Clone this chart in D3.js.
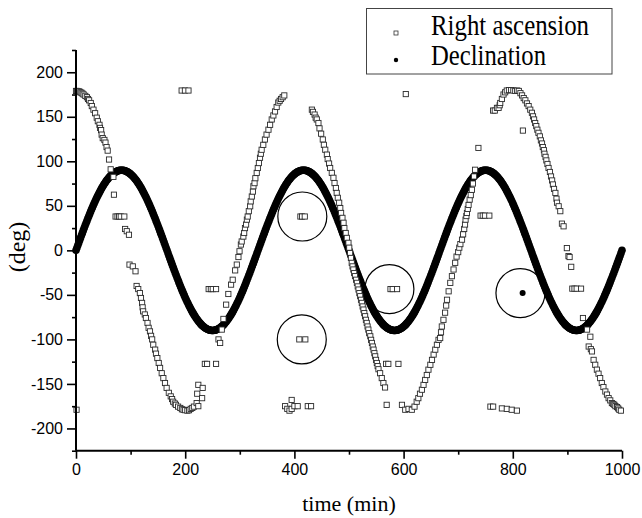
<!DOCTYPE html>
<html>
<head>
<meta charset="utf-8">
<script src="https://cdn.jsdelivr.net/npm/d3@7"></script>
<style>
  html, body { margin: 0; padding: 0; background: #fff; }
  svg { display: block; }
  .tick text { font-family: "Liberation Sans", Arial, sans-serif; font-size: 16px; fill: #000; }
  .title { font-family: "Liberation Serif", "Times New Roman", serif; fill: #000; }
</style>
</head>
<body>
<svg id="chart" width="642" height="518"></svg>
<script>
// Declination, one fix every 100 s (5/3 min) from t = 0 to t = 1000 min
const decStepMin = 5 / 3;
const declination = [
  0,2.8,5.7,8.5,11.3,14.1,16.9,19.6,22.4,25.1,
  27.8,30.5,33.1,35.7,38.3,40.9,43.4,45.8,48.2,50.6,
  52.9,55.2,57.4,59.5,61.6,63.6,65.6,67.5,69.4,71.1,
  72.8,74.4,76.0,77.5,78.9,80.2,81.4,82.6,83.7,84.7,
  85.6,86.4,87.2,87.8,88.4,88.9,89.3,89.6,89.8,90.0,
  90,90.0,89.8,89.6,89.3,88.9,88.4,87.8,87.2,86.4,
  85.6,84.7,83.7,82.6,81.4,80.2,78.9,77.5,76.0,74.4,
  72.8,71.1,69.4,67.5,65.6,63.6,61.6,59.5,57.4,55.2,
  52.9,50.6,48.2,45.8,43.4,40.9,38.3,35.7,33.1,30.5,
  27.8,25.1,22.4,19.6,16.9,14.1,11.3,8.5,5.7,2.8,
  0,-2.8,-5.7,-8.5,-11.3,-14.1,-16.9,-19.6,-22.4,-25.1,
  -27.8,-30.5,-33.1,-35.7,-38.3,-40.9,-43.4,-45.8,-48.2,-50.6,
  -52.9,-55.2,-57.4,-59.5,-61.6,-63.6,-65.6,-67.5,-69.4,-71.1,
  -72.8,-74.4,-76.0,-77.5,-78.9,-80.2,-81.4,-82.6,-83.7,-84.7,
  -85.6,-86.4,-87.2,-87.8,-88.4,-88.9,-89.3,-89.6,-89.8,-90.0,
  -90,-90.0,-89.8,-89.6,-89.3,-88.9,-88.4,-87.8,-87.2,-86.4,
  -85.6,-84.7,-83.7,-82.6,-81.4,-80.2,-78.9,-77.5,-76.0,-74.4,
  -72.8,-71.1,-69.4,-67.5,-65.6,-63.6,-61.6,-59.5,-57.4,-55.2,
  -52.9,-50.6,-48.2,-45.8,-43.4,-40.9,-38.3,-35.7,-33.1,-30.5,
  -27.8,-25.1,-22.4,-19.6,-16.9,-14.1,-11.3,-8.5,-5.7,-2.8,
  0,2.8,5.7,8.5,11.3,14.1,16.9,19.6,22.4,25.1,
  27.8,30.5,33.1,35.7,38.3,40.9,43.4,45.8,48.2,50.6,
  52.9,55.2,57.4,59.5,61.6,63.6,65.6,67.5,69.4,71.1,
  72.8,74.4,76.0,77.5,78.9,80.2,81.4,82.6,83.7,84.7,
  85.6,86.4,87.2,87.8,88.4,88.9,89.3,89.6,89.8,90.0,
  90,90.0,89.8,89.6,89.3,88.9,88.4,87.8,87.2,86.4,
  85.6,84.7,83.7,82.6,81.4,80.2,78.9,77.5,76.0,74.4,
  72.8,71.1,69.4,67.5,65.6,63.6,61.6,59.5,57.4,55.2,
  52.9,50.6,48.2,45.8,43.4,40.9,38.3,35.7,33.1,30.5,
  27.8,25.1,22.4,19.6,16.9,14.1,11.3,8.5,5.7,2.8,
  0,-2.8,-5.7,-8.5,-11.3,-14.1,-16.9,-19.6,-22.4,-25.1,
  -27.8,-30.5,-33.1,-35.7,-38.3,-40.9,-43.4,-45.8,-48.2,-50.6,
  -52.9,-55.2,-57.4,-59.5,-61.6,-63.6,-65.6,-67.5,-69.4,-71.1,
  -72.8,-74.4,-76.0,-77.5,-78.9,-80.2,-81.4,-82.6,-83.7,-84.7,
  -85.6,-86.4,-87.2,-87.8,-88.4,-88.9,-89.3,-89.6,-89.8,-90.0,
  -90,-90.0,-89.8,-89.6,-89.3,-88.9,-88.4,-87.8,-87.2,-86.4,
  -85.6,-84.7,-83.7,-82.6,-81.4,-80.2,-78.9,-77.5,-76.0,-74.4,
  -72.8,-71.1,-69.4,-67.5,-65.6,-63.6,-61.6,-59.5,-57.4,-55.2,
  -52.9,-50.6,-48.2,-45.8,-43.4,-40.9,-38.3,-35.7,-33.1,-30.5,
  -27.8,-25.1,-22.4,-19.6,-16.9,-14.1,-11.3,-8.5,-5.7,-2.8,
  0,2.8,5.7,8.5,11.3,14.1,16.9,19.6,22.4,25.1,
  27.8,30.5,33.1,35.7,38.3,40.9,43.4,45.8,48.2,50.6,
  52.9,55.2,57.4,59.5,61.6,63.6,65.6,67.5,69.4,71.1,
  72.8,74.4,76.0,77.5,78.9,80.2,81.4,82.6,83.7,84.7,
  85.6,86.4,87.2,87.8,88.4,88.9,89.3,89.6,89.8,90.0,
  90,90.0,89.8,89.6,89.3,88.9,88.4,87.8,87.2,86.4,
  85.6,84.7,83.7,82.6,81.4,80.2,78.9,77.5,76.0,74.4,
  72.8,71.1,69.4,67.5,65.6,63.6,61.6,59.5,57.4,55.2,
  52.9,50.6,48.2,45.8,43.4,40.9,38.3,35.7,33.1,30.5,
  27.8,25.1,22.4,19.6,16.9,14.1,11.3,8.5,5.7,2.8,
  0,-2.8,-5.7,-8.5,-11.3,-14.1,-16.9,-19.6,-22.4,-25.1,
  -27.8,-30.5,-33.1,-35.7,-38.3,-40.9,-43.4,-45.8,-48.2,-50.6,
  -52.9,-55.2,-57.4,-59.5,-61.6,-63.6,-65.6,-67.5,-69.4,-71.1,
  -72.8,-74.4,-76.0,-77.5,-78.9,-80.2,-81.4,-82.6,-83.7,-84.7,
  -85.6,-86.4,-87.2,-87.8,-88.4,-88.9,-89.3,-89.6,-89.8,-90.0,
  -90,-90.0,-89.8,-89.6,-89.3,-88.9,-88.4,-87.8,-87.2,-86.4,
  -85.6,-84.7,-83.7,-82.6,-81.4,-80.2,-78.9,-77.5,-76.0,-74.4,
  -72.8,-71.1,-69.4,-67.5,-65.6,-63.6,-61.6,-59.5,-57.4,-55.2,
  -52.9,-50.6,-48.2,-45.8,-43.4,-40.9,-38.3,-35.7,-33.1,-30.5,
  -27.8,-25.1,-22.4,-19.6,-16.9,-14.1,-11.3,-8.5,-5.7,-2.8,
  0
];

// Declination fixes that fall off the track: [time (min), deg]
const decOutliers = [[818, -48]];

// Right ascension fixes: [time (min), deg]
const rightAscension = [
  [0,179],[2,179],[4,178.5],[6,178.5],[8,177.5],[10,177],[12,176],[14,175],[17,173.5],[20,172],
  [22,170],[24,168.5],[27,165.5],[29,162],[32,158],[35,154],[38,149],[40,145],[43,141],[44,137.5],
  [46,135],[47,130],[49,126],[52,124],[54,121],[56,116],[58,112],[60.5,102],[63.5,91],[68.5,82.5],
  [69.5,62.5],[72.5,38],[76,38],[79,38],[82,38],[88.5,38],[90,24],[93,21.5],[97,17.5],
  [98,-16],[104,-18],[109,-23.5],
  [111,-40],[114,-43.5],[117,-48],[119,-53.5],[121,-59],[122,-64],[123,-68.5],[126,-72],[128,-76],[131,-81.5],
  [133,-87],[135.5,-91],[137.5,-96],[139.5,-100],[141.5,-106],[145,-111.5],[146.5,-116],[149,-121],
  [151.5,-126.5],[154,-132],[157,-138],[160,-143.5],[163,-149],[166,-154.5],[170,-160],[173.5,-164],
  [176,-167],[178,-170],[181,-172],[183,-173.5],[187,-175.5],[191,-177],[194,-178.5],[197,-179],
  [200,-179.5],[204,-180],[207,-179.5],[210,-178],[213,-177],[216,-175.5],[221,-171.5],[224,-175],
  [222,-161],[231,-166],[224,-151],[232,-154.5],
  [193.5,179.5],[199.5,179.5],[206,179.5],
  [236,-127.5],[240,-127.5],[256.5,-127.5],
  [243,-43.5],[247,-43.5],[250.5,-43.5],[256.5,-43.5],
  [261,-100],[264,-104],[267,-89],[270,-77],[275,-61],[279,-49],[284,-38.5],[287,-33],[291.5,-22.5],
  [294.5,-16],[297.5,-7.5],[299.5,-1],[302,6.5],[303.5,10],[306.5,15.5],[308,19.5],[309.5,25],
  [311.5,29],[313,34.5],[314.5,38],[316.5,44],[319,49.5],[320,55],[322,60.5],[324,66],[325,72],
  [327,75.5],[328.5,81],[331,87],[333,92.5],[335,98],[337,104],[338.5,108.5],[340,113],[343,118.5],[346,124.5],
  [349,130],[352.5,135.5],[355.5,141],[358.5,147],[361.5,151.5],[364.5,156],[367.5,161],[370.5,166],
  [373,168],[375.5,170],[378.5,172],[381.5,174],
  [383,-175],[387,-178],[391,-180],[395,-178],[395,-168],[400,-175],[406,-175],[424.5,-175],[430.5,-175],
  [411,38],[414,38],[419,38],
  [409,-100],[420,-100],
  [432,158],[434,155.5],[437,152.5],[439,149],[441,147],[444,143],[446,137],[449,131],[452,124.5],
  [454,118.5],[456.5,113],[459.5,107.5],[461,102.5],[463.5,97.5],[465.5,92.5],[468.5,87],[471.5,81.5],
  [473.5,75.5],[476,70],[477.5,64.5],[479.5,59],[482,53.5],[484,47.5],[485.5,42],[488,36.5],[490,31],
  [491.5,25],[494,19.5],[496,14],[499,8.5],[500.5,3],[502,-3],[503.5,-8.5],[505,-14],[506.5,-18],[508,-21.5],
  [509.5,-25.5],[511,-29],[513,-33],[514.5,-36.5],[516,-40.5],[517.5,-44],[519,-48],[520.5,-51.5],
  [522,-55.5],[523.5,-59],[525,-63],[526.5,-66.5],[528,-70.5],[529.5,-74],[531,-78],[532.5,-81.5],
  [534,-85.5],[535.5,-89],[537,-93],[539,-96.5],[540.5,-100.5],[542,-104],[543.5,-108],[545,-111.5],
  [546.5,-115.5],[548,-119],[549.5,-123],[551,-126.5],[552.5,-130],[554,-133.5],[557,-138],[560,-143.5],
  [563,-149],[566,-154],
  [569,-173.5],[568,-127.5],[572,-127.5],[590.5,-127.5],[576,-43.5],[580,-43.5],[588,-43.5],[604,175.5],
  [597,-173.5],[603,-179],[609,-178],[615,-179],[620,-175.5],[624,-170],[627,-166],[630,-161],
  [633.5,-156.5],[636.5,-151],[639.5,-145.5],[642.5,-140],[645.5,-134],[649,-128.5],[652,-123],
  [655,-117],[658,-111.5],[661,-106],[664,-100.5],[667,-98.5],[668.5,-92],[670,-85.5],[673,-78],
  [676,-70],[678,-62],[679.5,-55.5],[682.5,-46],[685.5,-36.5],[688.5,-29],[691.5,-21.5],[694.5,-14],
  [697,-7],[700,-2],[702,3],[704,7],[707,12],[709,18],[711,24],[712.5,29],[713.5,34.5],[715,38.5],[716,42],
  [717.5,46.5],[719,51],[721,57],[723,62],[725,68],[727,75],[729,83],[731,90.5],
  [737,115],[741,39],[745,39],[749,39],[757,39],
  [764,157],[767,157],[771,160],[774,160],[776,163],[777,165.5],[780,170],[783,175],[786,177.5],
  [789,179.5],[793,180],[797,180],[801,179.5],[804.5,179],[808,179.5],[811,179],[814,176.5],[817,174],
  [820,171],[823,168.5],[826,165],[829,162],[832,158],[835,154.5],[837,150.5],[839,147],[841,143],
  [843,139.5],[845,135.5],[847,132],[849.5,128],[851.5,123.5],[853.5,120],[855,116],[857,112.5],
  [858,108.5],[860,105],[861.5,101],[863.5,97],[865.5,92.5],[868,88],[870,83],[872,78.5],[873.5,74],
  [875.5,69],[878,64.5],[880,58],[881,53.5],[884,49.5],[887,44],[890,30],[893,27],
  [899,2.5],[902,-6.5],[904,-7.5],[907,-18.5],
  [909,-43],[913,-43],[917,-43],[925,-43],
  [928.5,-76],[936,-89],[942,-97],[939,-108],[943,-111],[945,-113.5],[948,-123],[951,-128.5],
  [954,-134],[957,-138.5],[960,-143.5],[963,-149],[966,-153.5],[969.5,-158.5],[972.5,-162],
  [975.5,-166],[978.5,-168.5],[981.5,-171.5],[984,-172.5],[986,-173.5],[988,-175],[991,-176],
  [993,-177.5],[995,-179],[998,-180],
  [759,-175.5],[764,-175.5],[780,-177.5],[789,-178],[798,-179],[807.5,-180],
  [818.5,134.5],[1,-179]
];

// Fixes ringed on the plot: [time (min), deg]
const ringedFixes = [[414.5, 38], [413.5, -100], [574, -43.5], [814, -48]];

// Axis ticks
const xMajorTicks = [0, 200, 400, 600, 800, 1000];
const xMinorTicks = [100, 300, 500, 700, 900];
const yMajorTicks = [-200, -150, -100, -50, 0, 50, 100, 150, 200];
const yMinorTicks = [-225, -175, -125, -75, -25, 25, 75, 125, 175, 225];

const seriesNames = ["Right ascension", "Declination"];

const svg = d3.select("#chart");
const x = d3.scaleLinear().domain([0, 1000]).range([76, 622]);
const y = d3.scaleLinear().domain([-225, 225]).range([450.7, 50]);

// Declination track
svg.append("g")
  .selectAll("circle")
  .data(declination)
  .join("circle")
  .attr("cx", (d, i) => x(i * decStepMin))
  .attr("cy", d => y(d))
  .attr("r", 3.8)
  .attr("fill", "#000");

svg.append("g")
  .selectAll("circle")
  .data(decOutliers)
  .join("circle")
  .attr("cx", d => x(d[0]))
  .attr("cy", d => y(d[1]))
  .attr("r", 3)
  .attr("fill", "#000");

// Right ascension: open squares
const sq = 5.2;
svg.append("g")
  .selectAll("rect")
  .data(rightAscension)
  .join("rect")
  .attr("x", d => x(d[0]) - sq / 2)
  .attr("y", d => y(d[1]) - sq / 2)
  .attr("width", sq)
  .attr("height", sq)
  .attr("fill", "#fff")
  .attr("stroke", "#2a2a2a")
  .attr("stroke-width", 0.9);

// Rings around selected fixes
svg.append("g")
  .selectAll("circle")
  .data(ringedFixes)
  .join("circle")
  .attr("cx", d => x(d[0]))
  .attr("cy", d => y(d[1]))
  .attr("r", 24.5)
  .attr("fill", "none")
  .attr("stroke", "#000")
  .attr("stroke-width", 1.2);

// Axes
const xAxisY = y(-225);
const yAxisX = x(0);

const gxMinor = svg.append("g").attr("transform", `translate(0,${xAxisY})`)
  .call(d3.axisBottom(x).tickValues(xMinorTicks).tickSize(4).tickFormat(""));
const gx = svg.append("g").attr("transform", `translate(0,${xAxisY})`)
  .call(d3.axisBottom(x).tickValues(xMajorTicks).tickSize(8).tickPadding(5).tickFormat(d3.format("d")));
const gyMinor = svg.append("g").attr("transform", `translate(${yAxisX},0)`)
  .call(d3.axisLeft(y).tickValues(yMinorTicks).tickSize(4).tickFormat(""));
const gy = svg.append("g").attr("transform", `translate(${yAxisX},0)`)
  .call(d3.axisLeft(y).tickValues(yMajorTicks).tickSize(9).tickPadding(4).tickFormat(d3.format("d")));

[gxMinor, gyMinor].forEach(g => g.select(".domain").remove());
[gx, gy].forEach(g => {
  g.select(".domain").attr("stroke", "#000").attr("stroke-width", 2)
    .attr("d", g === gx ? `M${x(0)},0H${x(1000)}` : `M0,${y(225)}V${y(-225)}`);
});
svg.selectAll(".tick line").attr("stroke", "#000").attr("stroke-width", 1.6);
gy.selectAll(".tick text").text(d => d3.format("d")(d).replace("−", "-"));

// Axis titles
svg.append("text")
  .attr("class", "title")
  .attr("x", (x(0) + x(1000)) / 2)
  .attr("y", 511)
  .attr("text-anchor", "middle")
  .attr("font-size", 22)
  .text("time (min)");

svg.append("text")
  .attr("class", "title")
  .attr("transform", `translate(25,${247}) rotate(-90)`)
  .attr("text-anchor", "middle")
  .attr("font-size", 24)
  .text("(deg)");

// Legend
const legend = svg.append("g");
legend.append("rect")
  .attr("x", 366.5).attr("y", 8.5)
  .attr("width", 245.5).attr("height", 65.5)
  .attr("fill", "#fff")
  .attr("stroke", "#444")
  .attr("stroke-width", 1);

const legendRows = [
  { name: seriesNames[0], baseline: 35, width: 158, marker: "square" },
  { name: seriesNames[1], baseline: 65, width: 115, marker: "dot" }
];
legendRows.forEach(r => {
  if (r.marker === "square") {
    legend.append("rect")
      .attr("x", 396 - 2).attr("y", r.baseline - 4)
      .attr("width", 4).attr("height", 4)
      .attr("fill", "#fff").attr("stroke", "#333").attr("stroke-width", 0.8);
  } else {
    legend.append("circle")
      .attr("cx", 396).attr("cy", r.baseline - 5)
      .attr("r", 2.2).attr("fill", "#000");
  }
  legend.append("text")
    .attr("class", "title")
    .attr("x", 431)
    .attr("y", r.baseline)
    .attr("font-size", 30)
    .attr("textLength", r.width)
    .attr("lengthAdjust", "spacingAndGlyphs")
    .text(r.name);
});
</script>
</body>
</html>
